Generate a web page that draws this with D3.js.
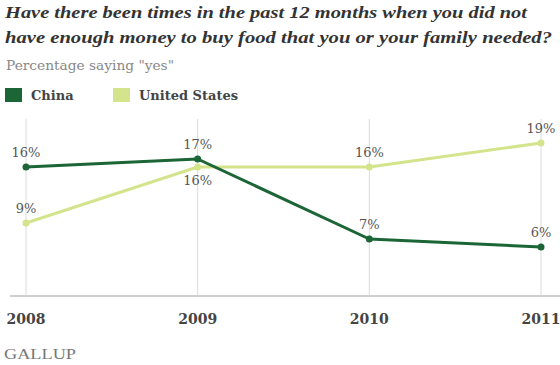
<!DOCTYPE html>
<html>
<head>
<meta charset="utf-8">
<script src="https://cdn.jsdelivr.net/npm/d3@7"></script>
<style>
  body { margin: 0; background: #fff; }
  svg { display: block; }
</style>
</head>
<body>
<div id="chart"></div>
<script>
// data
var years = ["2008", "2009", "2010", "2011"];
var china = [16, 17, 7, 6];
var usa = [9, 16, 16, 19];
// label side: -1 above the point, 1 below
var usaLabelSide = [-1, 1, -1, -1];

var width = 560, height = 365;
var colChina = "#1b6536", colUsa = "#d3e48c";
var serif = "Georgia, 'Liberation Serif', 'DejaVu Serif', serif";
var wide = "'DejaVu Serif', Georgia, serif";

var svg = d3.select("#chart").append("svg")
    .attr("width", width)
    .attr("height", height);

var x = d3.scalePoint().domain(years).range([26, 541]);
var y = d3.scaleLinear().domain([0, 22]).range([295, 119]);

// title block
svg.append("text")
    .attr("x", 5).attr("y", 18)
    .attr("font-family", serif)
    .attr("font-style", "italic").attr("font-weight", "bold")
    .attr("font-size", 17).attr("fill", "#333")
    .attr("textLength", 522).attr("lengthAdjust", "spacingAndGlyphs")
    .text("Have there been times in the past 12 months when you did not");
svg.append("text")
    .attr("x", 5).attr("y", 43)
    .attr("font-family", serif)
    .attr("font-style", "italic").attr("font-weight", "bold")
    .attr("font-size", 17).attr("fill", "#333")
    .attr("textLength", 547).attr("lengthAdjust", "spacingAndGlyphs")
    .text("have enough money to buy food that you or your family needed?");
svg.append("text")
    .attr("x", 6).attr("y", 70)
    .attr("font-family", wide)
    .attr("font-size", 13).attr("fill", "#888")
    .attr("textLength", 168).attr("lengthAdjust", "spacingAndGlyphs")
    .text("Percentage saying \"yes\"");

// legend
var legend = [{name: "China", color: colChina, x: 5}, {name: "United States", color: colUsa, x: 113}];
var lg = svg.selectAll("g.legend").data(legend).enter().append("g")
    .attr("class", "legend")
    .attr("transform", function(d) { return "translate(" + d.x + ",88)"; });
lg.append("rect").attr("width", 17).attr("height", 14).attr("fill", function(d) { return d.color; });
lg.append("text")
    .attr("x", 26).attr("y", 11.5)
    .attr("font-family", wide).attr("font-weight", "bold")
    .attr("font-size", 13).attr("fill", "#444")
    .text(function(d) { return d.name; });

// vertical grid lines
svg.selectAll("line.grid").data(years).enter().append("line")
    .attr("class", "grid")
    .attr("x1", function(d) { return x(d); }).attr("x2", function(d) { return x(d); })
    .attr("y1", y(22)).attr("y2", y(0))
    .attr("stroke", "#dcdcdc").attr("stroke-width", 1);

// baseline
svg.append("line")
    .attr("x1", 10).attr("x2", 560)
    .attr("y1", y(0) + 1).attr("y2", y(0) + 1)
    .attr("stroke", "#cfcfcf").attr("stroke-width", 2);

// x axis labels
svg.selectAll("text.year").data(years).enter().append("text")
    .attr("class", "year")
    .attr("x", function(d) { return x(d); })
    .attr("y", 324)
    .attr("text-anchor", "middle")
    .attr("font-family", wide).attr("font-weight", "bold")
    .attr("font-size", 14).attr("fill", "#444")
    .text(function(d) { return d; });

svg.append("text")
    .attr("x", 4).attr("y", 359)
    .attr("font-family", serif)
    .attr("font-size", 15).attr("fill", "#777")
    .attr("textLength", 72).attr("lengthAdjust", "spacingAndGlyphs")
    .text("GALLUP");

var line = d3.line()
    .x(function(d, i) { return x(years[i]); })
    .y(function(d) { return y(d); });

function drawSeries(vals, color, sides) {
    svg.append("path")
        .datum(vals)
        .attr("d", line)
        .attr("fill", "none")
        .attr("stroke", color).attr("stroke-width", 3)
        .attr("stroke-linejoin", "round");
    svg.selectAll(null).data(vals).enter().append("circle")
        .attr("cx", function(d, i) { return x(years[i]); })
        .attr("cy", function(d) { return y(d); })
        .attr("r", 3.5).attr("fill", color);
    svg.selectAll(null).data(vals).enter().append("text")
        .attr("x", function(d, i) { return x(years[i]); })
        .attr("y", function(d, i) { return sides[i] < 0 ? y(d) - 10 : y(d) + 18; })
        .attr("text-anchor", "middle")
        .attr("font-family", wide)
        .attr("font-size", 13).attr("fill", "#555")
        .text(function(d) { return d + "%"; });
}

drawSeries(usa, colUsa, usaLabelSide);
drawSeries(china, colChina, [-1, -1, -1, -1]);
</script>
</body>
</html>
